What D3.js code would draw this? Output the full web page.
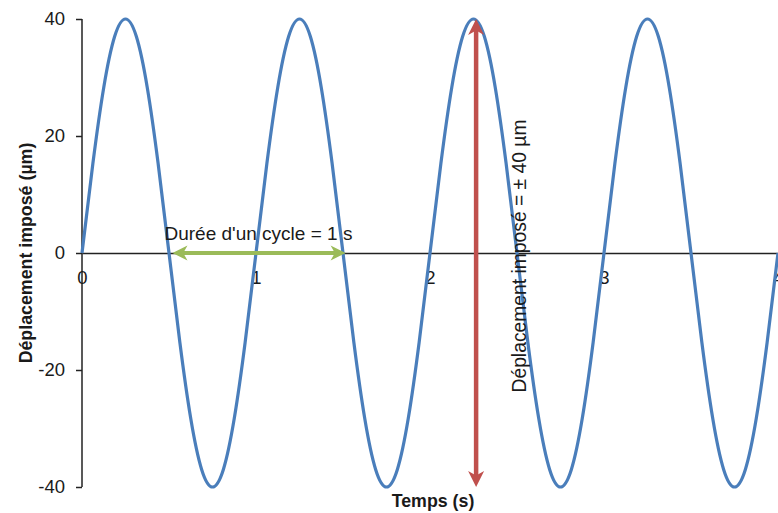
<!DOCTYPE html>
<html><head><meta charset="utf-8">
<script src="https://cdn.jsdelivr.net/npm/d3@7"></script>
<style>body{margin:0;background:#fff}svg{display:block}text{font-family:"Liberation Sans",Arial,sans-serif;fill:#1a1a1a}</style>
</head><body>
<svg id="c" width="778" height="513"></svg>
<script>
// Data
const timeS = [0,0.0625,0.125,0.1875,0.25,0.3125,0.375,0.4375,0.5,0.5625,0.625,0.6875,0.75,0.8125,0.875,0.9375,
  1,1.0625,1.125,1.1875,1.25,1.3125,1.375,1.4375,1.5,1.5625,1.625,1.6875,1.75,1.8125,1.875,1.9375,
  2,2.0625,2.125,2.1875,2.25,2.3125,2.375,2.4375,2.5,2.5625,2.625,2.6875,2.75,2.8125,2.875,2.9375,
  3,3.0625,3.125,3.1875,3.25,3.3125,3.375,3.4375,3.5,3.5625,3.625,3.6875,3.75,3.8125,3.875,3.9375,4];
const displacement = [0,15.3,28.3,37.0,40,37.0,28.3,15.3,0,-15.3,-28.3,-37.0,-40,-37.0,-28.3,-15.3,
  0,15.3,28.3,37.0,40,37.0,28.3,15.3,0,-15.3,-28.3,-37.0,-40,-37.0,-28.3,-15.3,
  0,15.3,28.3,37.0,40,37.0,28.3,15.3,0,-15.3,-28.3,-37.0,-40,-37.0,-28.3,-15.3,
  0,15.3,28.3,37.0,40,37.0,28.3,15.3,0,-15.3,-28.3,-37.0,-40,-37.0,-28.3,-15.3,0];
const xTicks = [0,1,2,3,4];
const yTicks = [-40,-20,0,20,40];
const xTitle = "Temps (s)";
const yTitle = "Déplacement imposé (µm)";
const cycleLabel = "Durée d'un cycle = 1 s";
const cycleArrow = [0.52, 1.515];   // time span of green arrow
const ampLabel = "Déplacement imposé = ± 40  µm";
const ampArrowT = 2.265;            // time of red arrow

const svg = d3.select("#c");
const x = d3.scaleLinear().domain([0,4]).range([82,778]);
const y = d3.scaleLinear().domain([-40,40]).range([487,19]);
const fmt = d => String(d);

// y axis
const ya = svg.append("g").attr("transform","translate(82,0)")
  .call(d3.axisLeft(y).tickValues(yTicks).tickSize(6).tickPadding(11).tickFormat(fmt));
ya.select(".domain").attr("stroke","#222").attr("stroke-width",1.5).attr("d","M0,"+y(40)+"V"+y(-40));
ya.selectAll(".tick line").attr("stroke","#222").attr("stroke-width",1.5);
ya.selectAll(".tick text").style("font-size","18.5px").attr("fill","#1a1a1a")
  .style("font-family","'Liberation Sans',Arial,sans-serif");

// x axis at y=0
const xa = svg.append("g").attr("transform","translate(0,"+y(0)+")")
  .call(d3.axisBottom(x).tickValues(xTicks).tickSize(0).tickPadding(18).tickFormat(fmt));
xa.select(".domain").attr("stroke","#222").attr("stroke-width",1.5);
xa.selectAll(".tick text").style("font-size","18.5px").attr("fill","#1a1a1a")
  .style("font-family","'Liberation Sans',Arial,sans-serif");

// curve
const pts = timeS.map((t,i)=>[t,displacement[i]]);
svg.append("path").datum(pts)
  .attr("fill","none").attr("stroke","#4A7EBB").attr("stroke-width",3.2)
  .attr("d", d3.line().x(d=>x(d[0])).y(d=>y(d[1])).curve(d3.curveNatural));

// arrowheads
function head(px,py,angle,color,len,w){
  const c=Math.cos(angle), s=Math.sin(angle);
  const p = (u,v)=>[px+u*c - v*s, py+u*s + v*c];
  const P=[p(0,0),p(-len,-w/2),p(-len*0.72,0),p(-len,w/2)];
  svg.append("path").attr("d","M"+P.map(q=>q.join(",")).join("L")+"Z").attr("fill",color);
}
// green arrow
const gx1=x(cycleArrow[0]), gx2=x(cycleArrow[1]), gy=y(0);
svg.append("line").attr("x1",gx1+8).attr("x2",gx2-8).attr("y1",gy).attr("y2",gy)
  .attr("stroke","#9BBB59").attr("stroke-width",4);
head(gx1,gy,Math.PI,"#9BBB59",15,15);
head(gx2,gy,0,"#9BBB59",15,15);
svg.append("text").attr("x",gx1-8).attr("y",240).style("font-size","19px").text(cycleLabel);

// red arrow
const rx=x(ampArrowT), ry1=y(40), ry2=y(-40);
svg.append("line").attr("x1",rx).attr("x2",rx).attr("y1",ry1+8).attr("y2",ry2-8)
  .attr("stroke","#C0504D").attr("stroke-width",4.5);
head(rx,ry1,-Math.PI/2,"#C0504D",16,16);
head(rx,ry2,Math.PI/2,"#C0504D",16,16);
svg.append("text").attr("transform","translate(526,256) rotate(-90)").attr("text-anchor","middle")
  .style("font-size","19.3px").text(ampLabel);

// titles
svg.append("text").attr("x",433).attr("y",507).attr("text-anchor","middle")
  .style("font-size","17.8px").style("font-weight","bold").text(xTitle);
svg.append("text").attr("transform","translate(32,253) rotate(-90)").attr("text-anchor","middle")
  .style("font-size","17.8px").style("font-weight","bold").text(yTitle);
</script>
</body></html>
